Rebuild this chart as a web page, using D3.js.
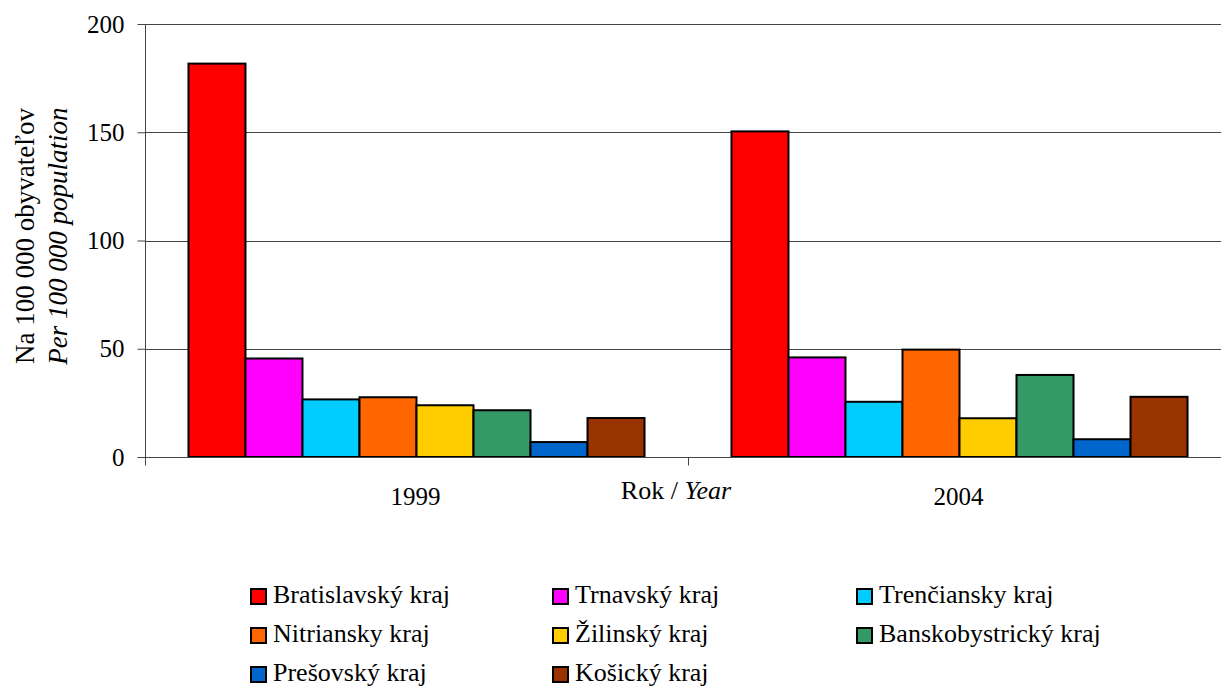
<!DOCTYPE html>
<html><head><meta charset="utf-8">
<script src="https://cdn.jsdelivr.net/npm/d3@7/dist/d3.min.js"></script>
<style>body{margin:0;background:#fff}svg{display:block}svg text{font-family:"Liberation Serif","Times New Roman",serif !important;fill:#000}</style>
</head><body><svg id="c" width="1221" height="687"></svg>
<script>
const years = ["1999", "2004"];
const regions = ["Bratislavský kraj","Trnavský kraj","Trenčiansky kraj","Nitriansky kraj","Žilinský kraj","Banskobystrický kraj","Prešovský kraj","Košický kraj"];
const colors = ["#FF0000","#FF00FF","#00CCFF","#FF6600","#FFCC00","#339966","#0066CC","#993300"];
const values1999 = [181.7, 45.5, 26.6, 27.6, 23.9, 21.6, 6.9, 18.0];
const values2004 = [150.4, 46.0, 25.5, 49.6, 17.9, 37.9, 8.2, 27.8];
const yTicks = [0, 50, 100, 150, 200];

(function () {
const FS = 26;
const svg = d3.select("#c");
const pL = 145, pR = 1231, pT = 24, pB = 457;
const x0 = d3.scaleBand().domain(years).range([pL, pR]);
const x1 = d3.scaleBand().domain(regions).range([0, x0.bandwidth()]).paddingOuter(0.7627).paddingInner(0);
const y = d3.scaleLinear().domain([0, 200]).range([pB, pT]);

// gridlines
svg.append("g").selectAll("line").data(yTicks.filter(d => d > 0)).join("line")
  .attr("x1", pL).attr("x2", 1221).attr("y1", d => Math.round(y(d)) + 0.5).attr("y2", d => Math.round(y(d)) + 0.5)
  .attr("stroke", "#444").attr("stroke-width", 1);

// y axis
const ya = svg.append("g").attr("transform", `translate(${pL + 0.5},0)`)
  .call(d3.axisLeft(y).tickValues(yTicks).tickSize(8).tickPadding(13).tickFormat(d3.format("d")));
ya.select(".domain").attr("d", `M0,${pT}V${pB + 5}`).attr("stroke", "#444");
ya.selectAll(".tick line").attr("stroke", "#444");
ya.selectAll(".tick text").attr("font-size", 25).attr("fill", "#000");

// bars
const data = [values1999, values2004];
const groups = svg.append("g").selectAll("g").data(years).join("g")
  .attr("transform", d => `translate(${x0(d)},0)`);
groups.selectAll("rect").data((d, i) => data[i].map((v, j) => ({ r: regions[j], v, c: colors[j] }))).join("rect")
  .attr("x", d => x1(d.r)).attr("width", x1.bandwidth())
  .attr("y", d => y(d.v)).attr("height", d => y(0) - y(d.v))
  .attr("fill", d => d.c).attr("stroke", "#000").attr("stroke-width", 2);

// x axis
const xa = svg.append("g").attr("transform", `translate(0,${pB + 0.5})`);
xa.append("line").attr("x1", pL).attr("x2", 1221).attr("stroke", "#444");
xa.selectAll("line.t").data([pL, x0("2004"), pR]).join("line").attr("class", "t")
  .attr("x1", d => d + 0.5).attr("x2", d => d + 0.5).attr("y1", 0).attr("y2", 8).attr("stroke", "#444");
svg.append("g").selectAll("text").data(years).join("text")
  .attr("x", d => x0(d) + x0.bandwidth() / 2 - 1).attr("y", 505)
  .attr("text-anchor", "middle").attr("font-size", 25).text(d => d);

// x title
const xt = svg.append("text").attr("x", 676).attr("y", 499).attr("text-anchor", "middle").attr("font-size", FS);
xt.append("tspan").text("Rok / ");
xt.append("tspan").attr("font-style", "italic").text("Year");

// y title
const yt = svg.append("g").attr("transform", "translate(0,236) rotate(-90)");
yt.append("text").attr("x", 0).attr("y", 34).attr("text-anchor", "middle").attr("font-size", 27).text("Na 100 000 obyvateľov");
yt.append("text").attr("x", 0).attr("y", 67).attr("text-anchor", "middle").attr("font-size", 27).attr("font-style", "italic").text("Per 100 000 population");

// legend
const colX = [250, 552, 856], rowY = [588, 627, 666];
const leg = svg.append("g").selectAll("g").data(regions).join("g")
  .attr("transform", (d, i) => `translate(${colX[i % 3]},${rowY[Math.floor(i / 3)]})`);
leg.append("rect").attr("x", 1).attr("y", 1).attr("width", 15).attr("height", 15)
  .attr("fill", (d, i) => colors[i]).attr("stroke", "#000").attr("stroke-width", 2);
leg.append("text").attr("x", 23).attr("y", 15).attr("font-size", FS).text(d => d);
})();
</script></body></html>
